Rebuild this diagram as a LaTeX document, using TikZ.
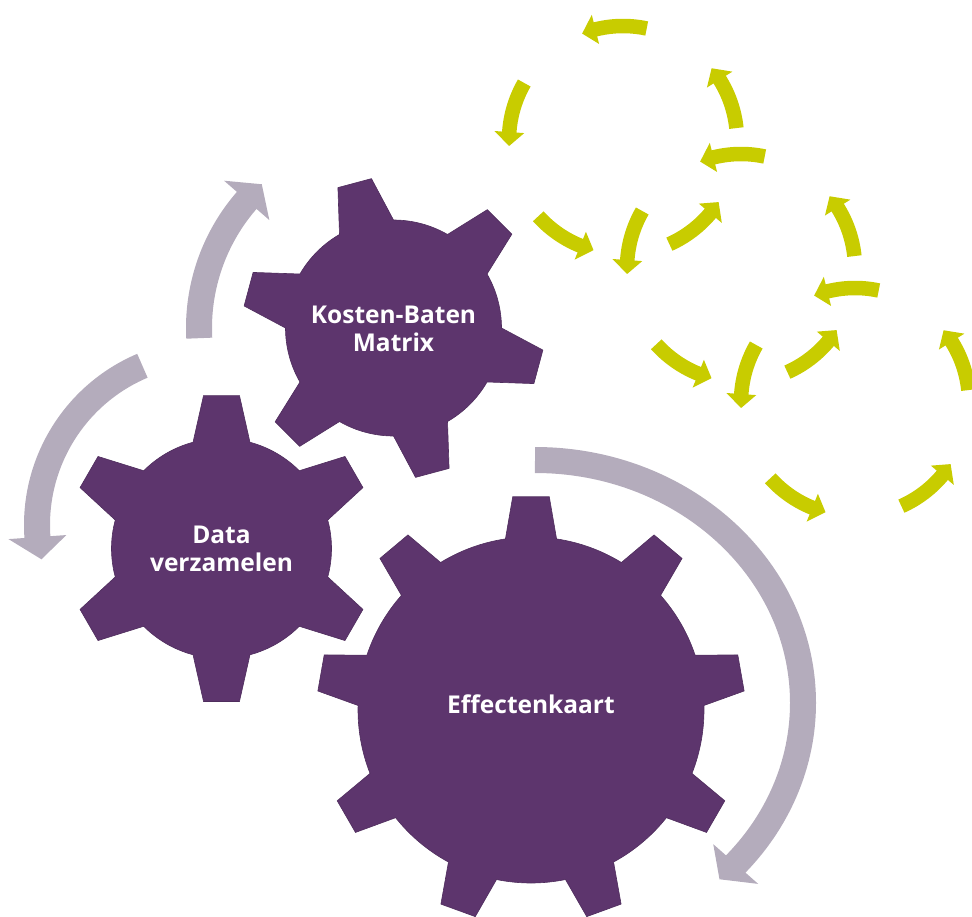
\documentclass[tikz,border=0pt]{standalone}
\usepackage{fontspec}
\setmainfont{Open Sans}
\usetikzlibrary{calc}

\definecolor{cogpurple}{RGB}{93,53,109}
\definecolor{arrowgrey}{RGB}{180,172,188}
\definecolor{limegreen}{RGB}{200,204,0}

\tikzset{
  cogfill/.style={fill=cogpurple, draw=cogpurple!85!black, line width=0.6pt},
  cogtext/.style={text=white, font=\bfseries\fontsize{24.5}{28}\selectfont, align=center},
  greyband/.style={draw=arrowgrey, line width=26pt},
  greyhead/.style={fill=arrowgrey},
  limeband/.style={draw=limegreen, line width=14.5pt},
  limehead/.style={fill=limegreen}
}

% gear: centre, teeth, rotation, body radius, tip radius, base half angle, tip half angle
\newcommand{\cog}[7]{%
  \begin{scope}[shift={(#1)}]
    \fill[cogfill] ({#3-#6}:#4)
      \foreach \k in {1,...,#2} {
        -- ({#3+(\k-1)*360/#2-#6}:#4) -- ({#3+(\k-1)*360/#2-#7}:#5)
        -- ({#3+(\k-1)*360/#2+#7}:#5) -- ({#3+(\k-1)*360/#2+#6}:#4)
        arc[start angle={#3+(\k-1)*360/#2+#6}, end angle={#3+\k*360/#2-#6}, radius=#4]
      } -- cycle;
  \end{scope}}

% one green arrow piece of a circle, from its start angle
\newcommand{\limearrow}[1]{%
  \draw[limeband] (#1:114) arc[start angle=#1, end angle={#1+27}, radius=114];
  \fill[limehead] ({#1+26}:129) -- ({#1+33}:114) -- ({#1+26}:99) -- cycle;}

\begin{document}
\begin{tikzpicture}[x=1pt, y=1pt]
    \useasboundingbox (0,0) rectangle (972,-916);

    % centres
    \coordinate (kosten) at (393.5,-328);
    \coordinate (data) at (221.5,-548.5);
    \coordinate (effect) at (531,-710);
    \coordinate (ring1) at (623,-140);
    \coordinate (ring2) at (741,-268);
    \coordinate (ring3) at (855,-402);

    % green arrow circles
    \foreach \c in {ring1, ring2, ring3} {
      \begin{scope}[shift={(\c)}]
        \foreach \s in {6,78,...,294} {\limearrow{\s}}
      \end{scope}
    }

    % grey arrows
    \begin{scope}[shift={(535,-703)}]
      \draw[greyband] (0,243) arc[start angle=90, end angle=-42.5, x radius=268, y radius=243];
      \fill[greyhead] ({298*cos(-41.5)},{273*sin(-41.5)}) -- ({268*cos(-46.5)},{243*sin(-46.5)})
        -- ({238*cos(-41.5)},{213*sin(-41.5)}) -- cycle;
    \end{scope}
    \begin{scope}[shift={(210,-525)}]
      \draw[greyband] (113:173) arc[start angle=113, end angle=185, radius=173];
      \fill[greyhead] (184:202) -- (191.5:172) -- (184:144) -- cycle;
    \end{scope}
    \begin{scope}[shift={(kosten)}]
      \draw[greyband] (183:194.5) arc[start angle=183, end angle=138, radius=194.5];
      \fill[greyhead] (139:224.5) -- (132.5:195) -- (139:164.5) -- cycle;
    \end{scope}

    % gears
    \cog{kosten}{6}{105}{108}{151}{15}{6.6}
    \cog{data}{6}{90}{110}{154}{15}{6.7}
    \cog{effect}{9}{90}{173}{214}{8.5}{4.9}

    % labels
    \node[cogtext] (kostenlabel) at (393.5,-329) {Kosten-Baten\\Matrix};
    \node[cogtext] (datalabel) at (221.5,-548.5) {Data\\verzamelen};
    \node[cogtext] (effectlabel) at (531,-704) {Effectenkaart};
\end{tikzpicture}
\end{document}
